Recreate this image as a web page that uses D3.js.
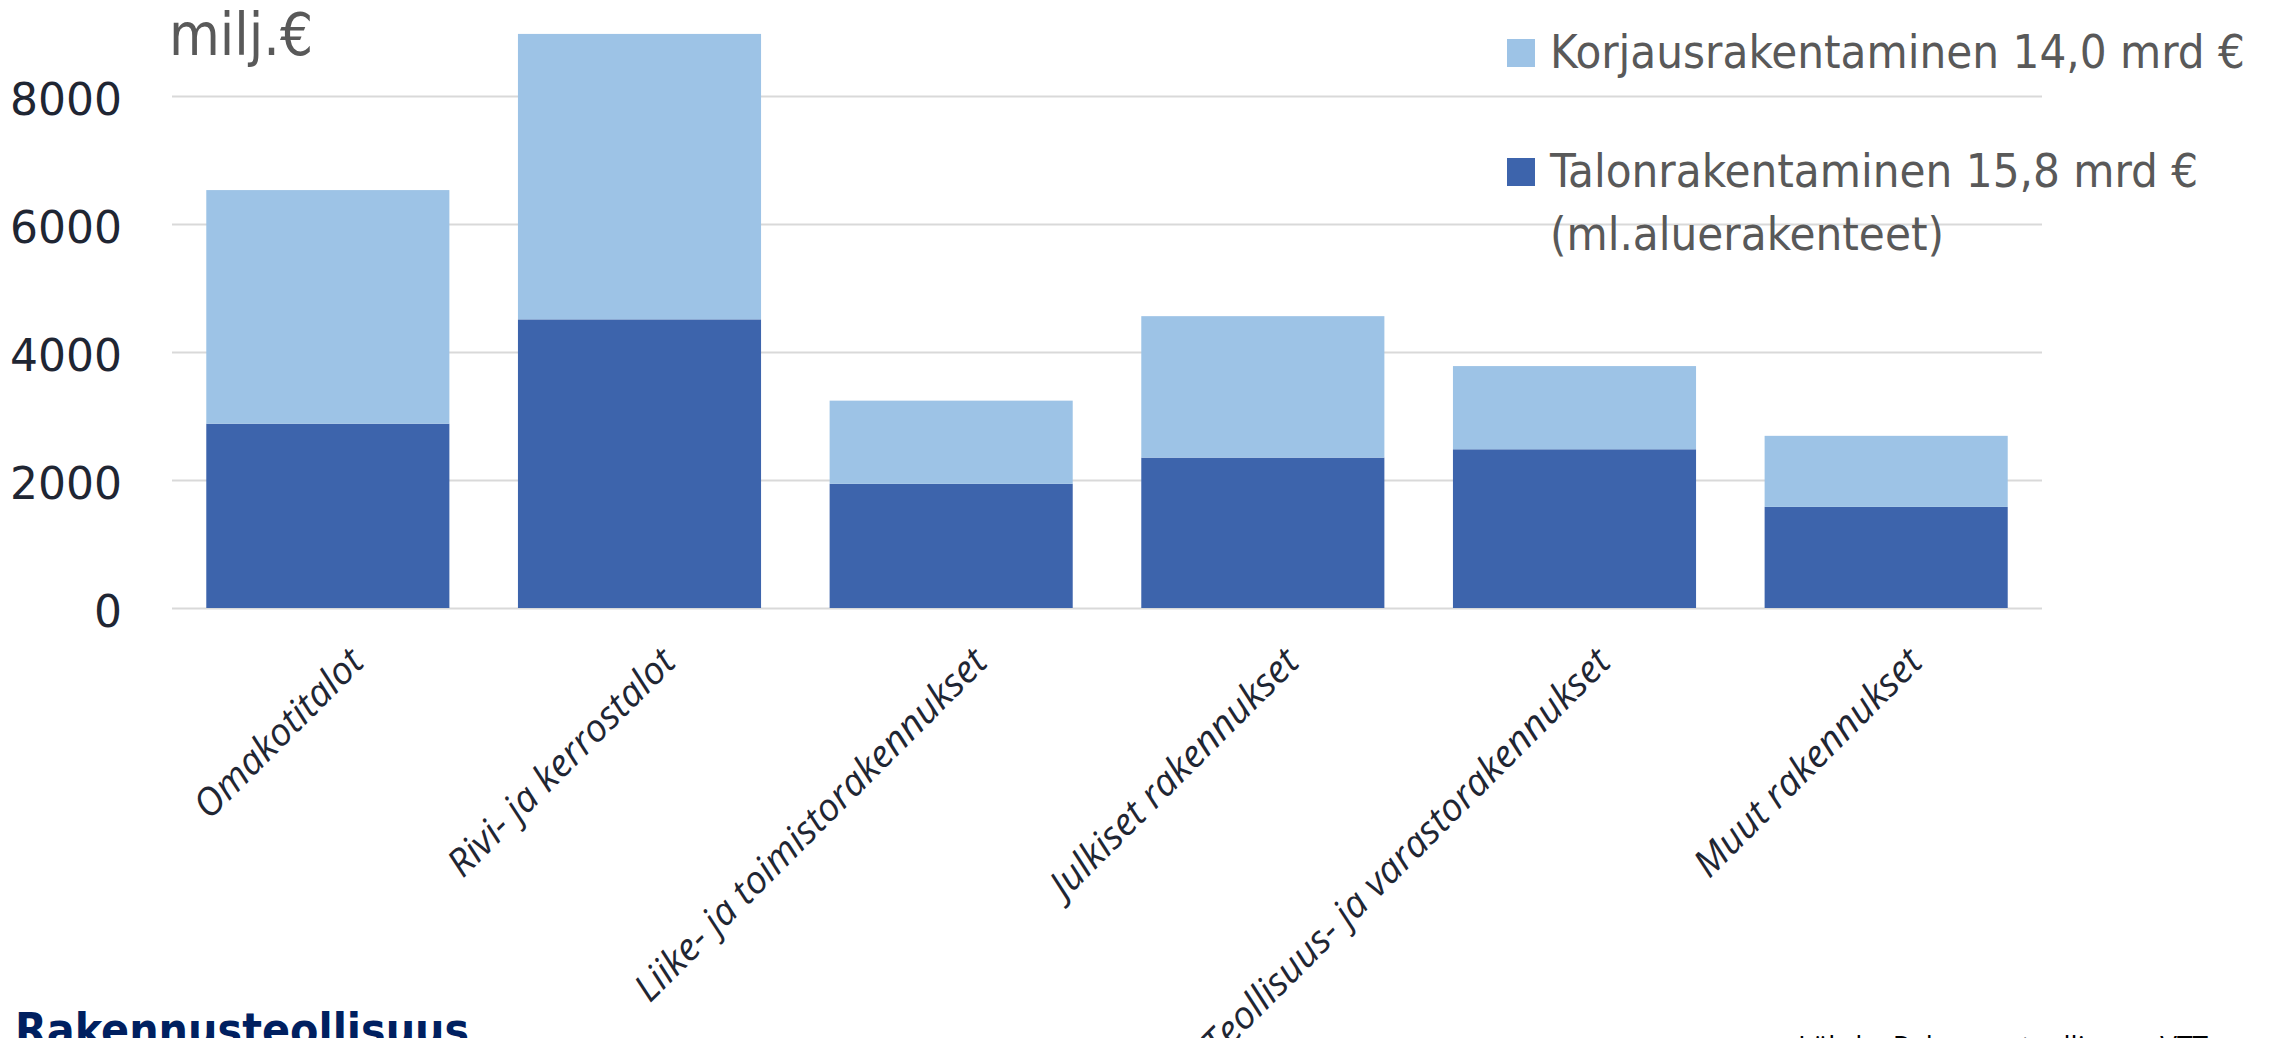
<!DOCTYPE html>
<html lang="fi">
<head>
    <meta charset="UTF-8">
    <title>Talonrakentaminen ja korjausrakentaminen</title>
    <script src="https://d3js.org/d3.v7.min.js"></script>
    <style>
        body {
            margin: 0;
            background-color: white;
        }
        .grid line {
            stroke: #d9d9d9;
            stroke-width: 2;
        }
        .grid text {
            font-family: "DejaVu Sans", sans-serif;
            font-size: 44px;
            fill: #1f2633;
        }
        .cat-label {
            font-family: "Open Sans", sans-serif;
            font-style: italic;
            font-size: 38px;
            fill: #1f2633;
        }
        .narrow {
            font-family: "Liberation Sans Narrow", "DejaVu Sans Condensed", sans-serif;
            font-stretch: condensed;
            fill: #595959;
        }
    </style>
</head>
<body>
<script>
    const categories = ["Omakotitalot", "Rivi- ja kerrostalot", "Liike- ja toimistorakennukset",
        "Julkiset rakennukset", "Teollisuus- ja varastorakennukset", "Muut rakennukset"];
    // milj. €
    const talonrakentaminen = [2880, 4510, 1940, 2350, 2480, 1580];
    const korjausrakentaminen = [3650, 4460, 1300, 2210, 1300, 1110];
    const yTicks = [0, 2000, 4000, 6000, 8000];
    const seriesNames = ["Korjausrakentaminen 14,0 mrd €", "Talonrakentaminen 15,8 mrd €"];

    const width = 2287, height = 1038;
    const plotLeft = 172, plotRight = 2042, plotBottom = 608, plotTop = 96;

    const svg = d3.select("body").append("svg")
        .attr("width", width)
        .attr("height", height);

    const x = d3.scaleBand()
        .domain(categories)
        .range([plotLeft, plotRight])
        .paddingInner(0.22)
        .paddingOuter(0.11);

    const y = d3.scaleLinear()
        .domain([0, 8000])
        .range([plotBottom, plotTop]);

    // gridlines + y labels
    const grid = svg.append("g")
        .attr("class", "grid")
        .attr("transform", `translate(${plotLeft},0)`)
        .call(d3.axisLeft(y).tickValues(yTicks).tickFormat(d3.format("d"))
            .tickSize(-(plotRight - plotLeft)).tickPadding(50));
    grid.select(".domain").remove();
    grid.selectAll("text").attr("dy", "0.42em");

    const rows = categories.map((c, i) => ({
        cat: c,
        talon: talonrakentaminen[i],
        korjaus: korjausrakentaminen[i]
    }));
    const stacked = d3.stack().keys(["talon", "korjaus"])(rows);
    const colors = {talon: "#3d64ac", korjaus: "#9dc3e6"};

    svg.append("g").selectAll("g")
        .data(stacked)
        .join("g")
        .attr("fill", d => colors[d.key])
        .selectAll("rect")
        .data(d => d)
        .join("rect")
        .attr("x", d => x(d.data.cat))
        .attr("width", x.bandwidth())
        .attr("y", d => y(d[1]))
        .attr("height", d => y(d[0]) - y(d[1]));

    // rotated category labels
    svg.append("g").selectAll("text")
        .data(categories)
        .join("text")
        .attr("class", "cat-label")
        .attr("text-anchor", "end")
        .attr("dy", "0.75em")
        .attr("transform", d => `translate(${x(d) + x.bandwidth() / 2 + 18},644) rotate(-45)`)
        .text(d => d);

    // unit label
    svg.append("text")
        .attr("class", "narrow")
        .attr("x", 169)
        .attr("y", 55)
        .attr("font-size", 58)
        .text("milj.€");

    // legend
    const legend = svg.append("g");
    const legendItems = [
        {name: seriesNames[0], color: colors.korjaus, y: 39, base: 68},
        {name: seriesNames[1], color: colors.talon, y: 158, base: 187}
    ];
    legend.selectAll("rect")
        .data(legendItems)
        .join("rect")
        .attr("x", 1507)
        .attr("y", d => d.y)
        .attr("width", 28)
        .attr("height", 28)
        .attr("fill", d => d.color);
    legend.selectAll("text")
        .data(legendItems)
        .join("text")
        .attr("class", "narrow")
        .attr("x", 1550)
        .attr("y", d => d.base)
        .attr("font-size", 47)
        .text(d => d.name);
    legend.append("text")
        .attr("class", "narrow")
        .attr("x", 1550)
        .attr("y", 250)
        .attr("font-size", 47)
        .text("(ml.aluerakenteet)");

    // footer
    svg.append("text")
        .attr("x", 15)
        .attr("y", 1046)
        .attr("font-family", "'Liberation Sans Narrow', 'DejaVu Sans Condensed', sans-serif")
        .attr("font-weight", "bold")
        .attr("font-size", 46)
        .attr("fill", "#002060")
        .text("Rakennusteollisuus");
    svg.append("text")
        .attr("x", 1798)
        .attr("y", 1056)
        .attr("font-family", "'Open Sans', sans-serif")
        .attr("font-size", 28)
        .attr("fill", "#000")
        .text("Lähde: Rakennusteollisuus, VTT");
</script>
</body>
</html>
